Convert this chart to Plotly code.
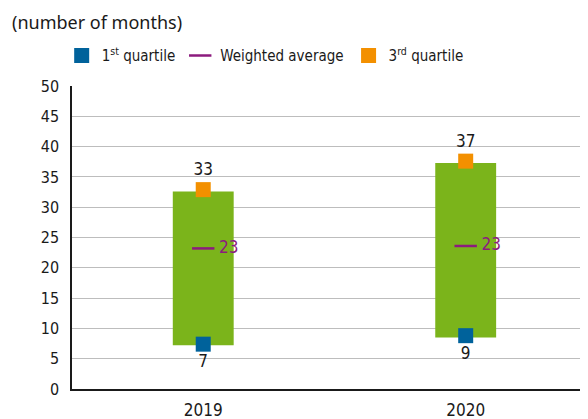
import plotly.graph_objects as go

years = ["2019", "2020"]
q1 = [7.4, 8.8]
q3 = [32.9, 37.6]
avg = [23.2, 23.6]
q1_labels = ["7", "9"]
q3_labels = ["33", "37"]
avg_labels = ["23", "23"]
bar_low = [7.2, 8.5]
bar_high = [32.6, 37.3]

BLUE = "#00629b"
ORANGE = "#f39000"
GREEN = "#7bb41b"
PURPLE = "#8c1b7e"
FONT = "DejaVu Sans Condensed, Liberation Sans Narrow, Liberation Sans"

fig = go.Figure()
fig.add_trace(go.Bar(
    x=years, y=[h - l for h, l in zip(bar_high, bar_low)], base=bar_low,
    marker=dict(color=GREEN, line=dict(width=0)), width=0.232,
    showlegend=False, hoverinfo="skip"))
fig.add_trace(go.Scatter(
    x=years, y=q1, mode="markers+text", name="1<sup>st</sup> quartile",
    marker=dict(symbol="square", size=15, color=BLUE),
    text=q1_labels, textposition="bottom center",
    textfont=dict(family=FONT, size=17, color="#1a1a1a")))
fig.add_trace(go.Scatter(
    x=years, y=avg, mode="markers+text", name="Weighted average",
    marker=dict(symbol="line-ew", size=16, color=PURPLE, line=dict(color=PURPLE, width=2.5)),
    text=[" " + t for t in avg_labels], textposition="middle right",
    textfont=dict(family=FONT, size=17, color=PURPLE)))
fig.add_trace(go.Scatter(
    x=years, y=q3, mode="markers+text", name="3<sup>rd</sup> quartile",
    marker=dict(symbol="square", size=15, color=ORANGE),
    text=q3_labels, textposition="top center",
    textfont=dict(family=FONT, size=17, color="#1a1a1a")))

# page body has an 8px default margin, so the figure is 8px smaller than the window
fig.update_layout(
    width=580, height=411,
    margin=dict(l=64, r=0, t=78, b=30, autoexpand=False),
    paper_bgcolor="white", plot_bgcolor="white",
    font=dict(family=FONT, size=16, color="#1a1a1a"),
    showlegend=True,
    legend=dict(orientation="h", x=-0.02, xanchor="left", y=1.10, yanchor="middle",
                font=dict(family=FONT, size=15), itemclick=False, traceorder="normal",
                bgcolor="rgba(0,0,0,0)"),
    annotations=[dict(text="(number of months)", xref="paper", yref="paper", x=-0.12, y=1.211,
                      xanchor="left", yanchor="middle", showarrow=False,
                      font=dict(family="Noto Sans", size=18, color="#1a1a1a"))],
)
fig.update_xaxes(type="category", range=[-0.5, 1.466], showgrid=False,
                 showline=True, linecolor="#1a1a1a", linewidth=1.5, ticks="",
                 ticklabelstandoff=5, tickfont=dict(family=FONT, size=17))
fig.update_yaxes(range=[0, 50], dtick=5, showgrid=True, gridcolor="#bdbdbd", gridwidth=1.2,
                 showline=True, linecolor="#1a1a1a", linewidth=1.5, ticks="", zeroline=False,
                 ticklabelstandoff=8, tickfont=dict(family=FONT, size=16))

fig.write_html("out.html")
